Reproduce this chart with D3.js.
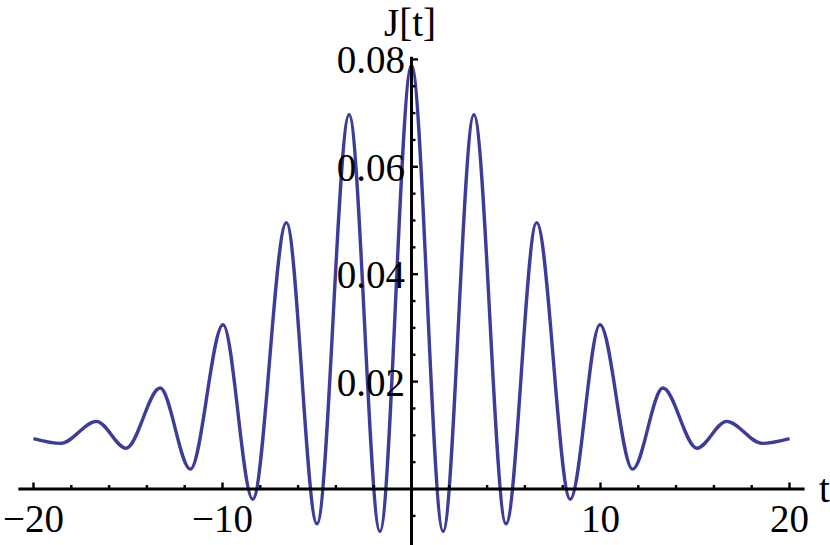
<!DOCTYPE html>
<html>
<head>
<meta charset="utf-8">
<script src="https://cdn.jsdelivr.net/npm/d3@7"></script>
<style>
  body { margin: 0; background: #fff; }
  svg { display: block; }
  text { font-family: "Liberation Serif", "Times New Roman", serif; font-size: 39px; fill: #000; }
</style>
</head>
<body>
<div id="chart"></div>
<script>
// Extrema of J[t] (peaks and troughs, plus the two ends)
const tValues = [-20, -18.55, -16.67, -15.1, -13.3, -11.7, -9.97, -8.4, -6.62, -5.0, -3.3, -1.67,
  0, 1.67, 3.3, 5.0, 6.62, 8.4, 9.97, 11.7, 13.3, 15.1, 16.67, 18.55, 20];
const jValues = [0.0094, 0.0085, 0.0126, 0.0076, 0.0188, 0.0037, 0.0306, -0.0019, 0.0496, -0.0065, 0.0697, -0.0079,
  0.0789, -0.0079, 0.0697, -0.0065, 0.0496, -0.0019, 0.0306, 0.0037, 0.0188, 0.0076, 0.0126, 0.0085, 0.0094];

// Axis ticks
const xMajorTicks = [-20, -10, 10, 20];
const xMajorLabels = ["\u221220", "\u221210", "10", "20"];
const xMinorTicks = [-18, -16, -14, -12, -8, -6, -4, -2, 2, 4, 6, 8, 12, 14, 16, 18];
const yMajorTicks = [0.02, 0.04, 0.06, 0.08];
const yMajorLabels = ["0.02", "0.04", "0.06", "0.08"];
const yMinorTicks = [-0.005, 0.005, 0.01, 0.015, 0.025, 0.03, 0.035, 0.045, 0.05, 0.055, 0.065, 0.07, 0.075];

const WIDTH = 830;
const HEIGHT = 545;
const LINE_COLOR = "#3d3d99";

const svg = d3.select("#chart").append("svg")
  .attr("width", WIDTH)
  .attr("height", HEIGHT);

const x = d3.scaleLinear().domain([-20, 20]).range([33.5, 789.5]);
const y = d3.scaleLinear().domain([0, 0.08]).range([489, 59.4]);

// curve first, axes drawn over it
const line = d3.line()
  .x((d, i) => x(tValues[i]))
  .y(d => y(d))
  .curve(d3.curveMonotoneX);

svg.append("path")
  .datum(jValues)
  .attr("fill", "none")
  .attr("stroke", LINE_COLOR)
  .attr("stroke-width", 3.4)
  .attr("stroke-linejoin", "round")
  .attr("d", line);

// x axis
const xAxis = svg.append("g").attr("stroke", "#000");
xAxis.append("line")
  .attr("x1", x(-20.8)).attr("x2", x(20.8))
  .attr("y1", y(0)).attr("y2", y(0))
  .attr("stroke-width", 3);
xAxis.selectAll(".xmajor").data(xMajorTicks).enter().append("line")
  .attr("x1", d => x(d)).attr("x2", d => x(d))
  .attr("y1", y(0)).attr("y2", y(0) - 6.5)
  .attr("stroke-width", 2.4);
xAxis.selectAll(".xminor").data(xMinorTicks).enter().append("line")
  .attr("x1", d => x(d)).attr("x2", d => x(d))
  .attr("y1", y(0)).attr("y2", y(0) - 4)
  .attr("stroke-width", 2.4);

svg.selectAll(".xlabel").data(xMajorTicks).enter().append("text")
  .attr("x", d => x(d))
  .attr("y", y(0) + 43)
  .attr("text-anchor", "middle")
  .text((d, i) => xMajorLabels[i]);

// y axis
const yAxis = svg.append("g").attr("stroke", "#000");
yAxis.append("line")
  .attr("x1", x(0)).attr("x2", x(0))
  .attr("y1", y(0.0805)).attr("y2", HEIGHT + 5)
  .attr("stroke-width", 3);
yAxis.selectAll(".ymajor").data(yMajorTicks).enter().append("line")
  .attr("x1", x(0)).attr("x2", x(0) + 6.5)
  .attr("y1", d => y(d)).attr("y2", d => y(d))
  .attr("stroke-width", 2.4);
yAxis.selectAll(".yminor").data(yMinorTicks).enter().append("line")
  .attr("x1", x(0)).attr("x2", x(0) + 4)
  .attr("y1", d => y(d)).attr("y2", d => y(d))
  .attr("stroke-width", 2.4);

svg.selectAll(".ylabel").data(yMajorTicks).enter().append("text")
  .attr("x", x(0) - 6.5)
  .attr("y", d => y(d) + 14)
  .attr("text-anchor", "end")
  .text((d, i) => yMajorLabels[i]);

// axis titles
svg.append("text")
  .attr("x", 410)
  .attr("y", 36)
  .attr("text-anchor", "middle")
  .text("J[t]");

svg.append("text")
  .attr("x", 819)
  .attr("y", 502)
  .text("t");
</script>
</body>
</html>
